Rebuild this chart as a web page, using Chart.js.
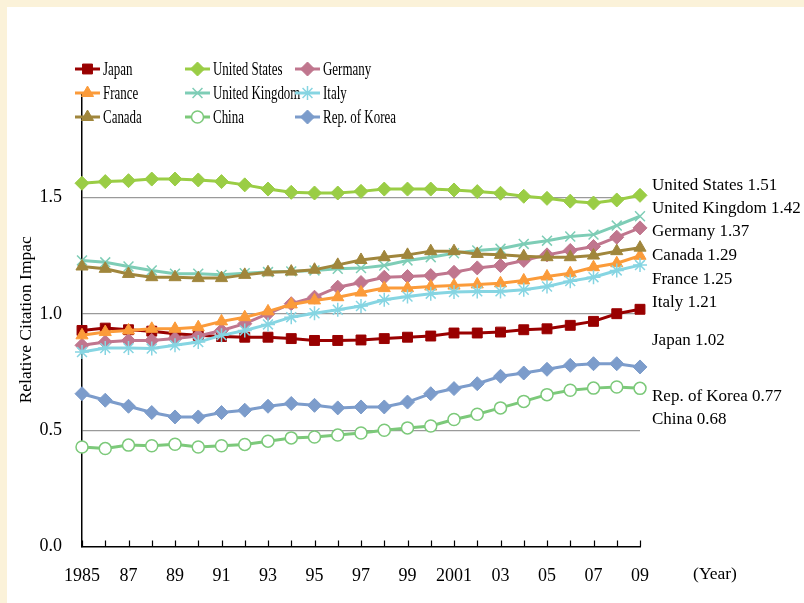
<!DOCTYPE html>
<html lang="en">
<head>
    <meta charset="UTF-8">
    <title>Relative Citation Impact</title>
    <script src="https://cdn.jsdelivr.net/npm/chart.js"></script>
    <style>
        body {
            margin: 0;
            background: #fbf2d9;
        }
        canvas {
            display: block;
        }
    </style>
</head>
<body>
    <canvas id="impactChart" width="804" height="603"></canvas>

    <script>
        const years = ['1985', '1986', '1987', '1988', '1989', '1990', '1991', '1992', '1993', '1994', '1995', '1996', '1997',
                       '1998', '1999', '2000', '2001', '2002', '2003', '2004', '2005', '2006', '2007', '2008', '2009'];
        const yearTicks = ['1985', '', '87', '', '89', '', '91', '', '93', '', '95', '', '97',
                           '', '99', '', '2001', '', '03', '', '05', '', '07', '', '09'];
        const yTicks = [0, 0.5, 1.0, 1.5];

        const japan = [0.929, 0.939, 0.932, 0.926, 0.915, 0.908, 0.903, 0.900, 0.900, 0.894, 0.886, 0.886, 0.888,
                       0.894, 0.900, 0.905, 0.918, 0.918, 0.922, 0.932, 0.936, 0.951, 0.968, 1.001, 1.02];
        const unitedStates = [1.562, 1.569, 1.573, 1.58, 1.58, 1.576, 1.569, 1.555, 1.537, 1.523, 1.52, 1.52, 1.527,
                              1.537, 1.537, 1.537, 1.533, 1.526, 1.519, 1.506, 1.497, 1.485, 1.477, 1.49, 1.51];
        const germany = [0.865, 0.879, 0.886, 0.886, 0.894, 0.905, 0.929, 0.958, 1.001, 1.044, 1.072, 1.115, 1.135,
                         1.158, 1.161, 1.165, 1.179, 1.198, 1.208, 1.23, 1.254, 1.273, 1.29, 1.33, 1.37];
        const france = [0.908, 0.922, 0.929, 0.936, 0.936, 0.943, 0.968, 0.986, 1.011, 1.041, 1.058, 1.072, 1.092,
                        1.111, 1.111, 1.118, 1.122, 1.127, 1.132, 1.144, 1.161, 1.175, 1.201, 1.218, 1.25];
        const unitedKingdom = [1.23, 1.222, 1.204, 1.187, 1.173, 1.173, 1.168, 1.175, 1.18, 1.183, 1.187, 1.194, 1.197,
                               1.208, 1.23, 1.244, 1.261, 1.273, 1.28, 1.301, 1.315, 1.333, 1.341, 1.38, 1.42];
        const italy = [0.836, 0.853, 0.853, 0.851, 0.865, 0.879, 0.908, 0.929, 0.955, 0.986, 1.003, 1.018, 1.034,
                       1.061, 1.075, 1.087, 1.094, 1.097, 1.097, 1.104, 1.118, 1.141, 1.158, 1.187, 1.21];
        const canada = [1.204, 1.194, 1.172, 1.158, 1.158, 1.154, 1.154, 1.168, 1.179, 1.182, 1.19, 1.211, 1.232,
                        1.244, 1.254, 1.27, 1.27, 1.258, 1.254, 1.248, 1.244, 1.244, 1.251, 1.27, 1.285];
        const china = [0.428, 0.421, 0.436, 0.433, 0.44, 0.428, 0.433, 0.439, 0.453, 0.467, 0.471, 0.479, 0.488,
                       0.5, 0.51, 0.518, 0.546, 0.569, 0.596, 0.624, 0.653, 0.672, 0.681, 0.686, 0.68];
        const korea = [0.657, 0.629, 0.603, 0.576, 0.557, 0.557, 0.576, 0.586, 0.603, 0.615, 0.607, 0.596, 0.6,
                       0.6, 0.621, 0.657, 0.679, 0.7, 0.732, 0.746, 0.762, 0.779, 0.786, 0.786, 0.772];

        // labels at the right end of the lines, with the value height they sit at
        const endLabels = ['United States 1.51', 'United Kingdom 1.42', 'Germany 1.37', 'Canada 1.29', 'France 1.25',
                           'Italy 1.21', 'Japan 1.02', 'Rep. of Korea 0.77', 'China 0.68'];
        const endLabelAt = [1.553, 1.453, 1.354, 1.251, 1.146, 1.049, 0.884, 0.646, 0.547];

        const series = [
            { label: 'Japan', data: japan, color: '#990000', style: 'rect', r: 7 },
            { label: 'United States', data: unitedStates, color: '#9acd45', style: 'rectRot', r: 7 },
            { label: 'Germany', data: germany, color: '#c0768e', style: 'rectRot', r: 7 },
            { label: 'France', data: france, color: '#fb9b3a', style: 'triangle', r: 7 },
            { label: 'United Kingdom', data: unitedKingdom, color: '#7ecdb6', style: 'crossRot', r: 7 },
            { label: 'Italy', data: italy, color: '#86d5e2', style: 'star', r: 7 },
            { label: 'Canada', data: canada, color: '#a0863c', style: 'triangle', r: 7 },
            { label: 'China', data: china, color: '#7cc97a', style: 'circle', r: 6, fill: '#ffffff' },
            { label: 'Rep. of Korea', data: korea, color: '#7c9ccb', style: 'rectRot', r: 7 }
        ];

        const serif = "'Liberation Serif', 'Times New Roman', serif";

        const panelBackground = {
            id: 'panelBackground',
            beforeDraw(chart) {
                const ctx = chart.ctx;
                ctx.save();
                ctx.fillStyle = '#fbf2d9';
                ctx.fillRect(0, 0, chart.width, chart.height);
                ctx.fillStyle = '#ffffff';
                ctx.fillRect(7, 7, chart.width - 7, chart.height - 7);
                ctx.restore();
            }
        };

        const extras = {
            id: 'extras',
            afterDraw(chart) {
                const ctx = chart.ctx;
                const xs = chart.scales.x;
                const ys = chart.scales.y;
                const area = chart.chartArea;
                ctx.save();

                // tick marks pointing into the plot
                ctx.strokeStyle = '#000';
                ctx.lineWidth = 1.2;
                ctx.beginPath();
                years.forEach((y, i) => {
                    const px = Math.round(xs.getPixelForValue(i)) + 0.5;
                    ctx.moveTo(px, area.bottom);
                    ctx.lineTo(px, area.bottom - 6);
                });
                ctx.stroke();

                // end labels
                ctx.fillStyle = '#000';
                ctx.font = '17px ' + serif;
                ctx.textBaseline = 'middle';
                ctx.textAlign = 'left';
                endLabels.forEach((t, i) => {
                    ctx.fillText(t, area.right + 12, ys.getPixelForValue(endLabelAt[i]));
                });

                ctx.font = '17.5px ' + serif;
                ctx.textAlign = 'center';
                ctx.textBaseline = 'alphabetic';
                ctx.fillText('(Year)', area.right + 75, area.bottom + 32);

                // legend, 3 columns
                const colX = [75, 185, 295];
                const rowY = [69, 93, 117];
                series.forEach((s, i) => {
                    const x0 = colX[i % 3];
                    const y0 = rowY[Math.floor(i / 3)];
                    ctx.strokeStyle = s.color;
                    ctx.lineWidth = 3;
                    ctx.beginPath();
                    ctx.moveTo(x0, y0);
                    ctx.lineTo(x0 + 25, y0);
                    ctx.stroke();
                    ctx.fillStyle = s.fill || s.color;
                    ctx.strokeStyle = s.color;
                    ctx.lineWidth = s.style === 'circle' || s.style === 'star' || s.style === 'crossRot' ? 1.5 : 1;
                    Chart.helpers.drawPoint(ctx, { pointStyle: s.style, radius: s.r, rotation: 0, borderWidth: ctx.lineWidth }, x0 + 12.5, y0);
                    ctx.save();
                    ctx.translate(x0 + 28, y0);
                    ctx.scale(0.7, 1);
                    ctx.fillStyle = '#000';
                    ctx.font = '18.5px ' + serif;
                    ctx.textAlign = 'left';
                    ctx.textBaseline = 'middle';
                    ctx.fillText(s.label, 0, 1);
                    ctx.restore();
                });

                ctx.restore();
            }
        };

        const ctx = document.getElementById('impactChart').getContext('2d');
        new Chart(ctx, {
            type: 'line',
            data: {
                labels: years,
                datasets: series.map((s, i) => ({
                    label: s.label,
                    data: s.data,
                    borderColor: s.color,
                    backgroundColor: s.fill || s.color,
                    borderWidth: 3,
                    pointStyle: s.style,
                    pointRadius: s.r,
                    pointBorderWidth: s.style === 'circle' || s.style === 'star' || s.style === 'crossRot' ? 1.5 : 1,
                    pointBorderColor: s.color,
                    pointBackgroundColor: s.fill || s.color,
                    tension: 0,
                    fill: false,
                    order: series.length - i
                }))
            },
            options: {
                responsive: false,
                animation: false,
                layout: {
                    padding: { top: 93, right: 164, bottom: 0, left: 0 }
                },
                plugins: {
                    legend: { display: false },
                    tooltip: { enabled: false }
                },
                scales: {
                    x: {
                        type: 'category',
                        offset: false,
                        grid: { display: false, drawTicks: false },
                        border: { color: '#000', width: 1.5 },
                        ticks: {
                            autoSkip: false,
                            maxRotation: 0,
                            padding: 19,
                            color: '#000',
                            font: { family: serif, size: 18 },
                            callback: (v, i) => yearTicks[i]
                        },
                        afterFit: (scale) => { scale.height = 56.5; }
                    },
                    y: {
                        min: 0,
                        max: 1.95,
                        grid: {
                            drawTicks: false,
                            color: (c) => (c.tick && c.tick.value === 0 ? 'rgba(0,0,0,0)' : '#9a9a9a'),
                            lineWidth: 1.2
                        },
                        border: { color: '#000', width: 1.5 },
                        afterBuildTicks: (scale) => {
                            scale.ticks = yTicks.map(v => ({ value: v }));
                        },
                        ticks: {
                            padding: 20,
                            color: '#000',
                            font: { family: serif, size: 18 },
                            callback: (v) => v.toFixed(1)
                        },
                        title: {
                            display: true,
                            text: 'Relative Citation Impac',
                            color: '#000',
                            font: { family: serif, size: 17.5 },
                            padding: { top: 16, bottom: 0 }
                        },
                        afterFit: (scale) => { scale.width = 82; }
                    }
                }
            },
            plugins: [panelBackground, extras]
        });
    </script>
</body>
</html>
